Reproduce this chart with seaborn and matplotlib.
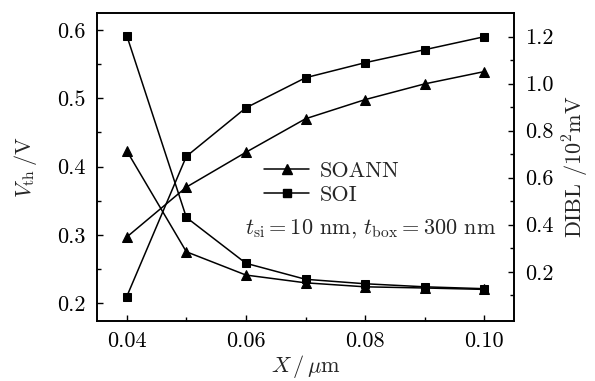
import matplotlib
matplotlib.use("Agg")
import matplotlib.pyplot as plt
import seaborn as sns
import pandas as pd
from matplotlib.ticker import FixedLocator, FormatStrFormatter
from matplotlib.lines import Line2D

# ---- data ----
x_um = [0.04, 0.05, 0.06, 0.07, 0.08, 0.09, 0.10]
vth_soann = [0.297, 0.370, 0.421, 0.470, 0.498, 0.521, 0.539]
vth_soi = [0.210, 0.415, 0.486, 0.530, 0.552, 0.571, 0.590]
dibl_soann = [0.714, 0.285, 0.186, 0.153, 0.136, 0.131, 0.125]
dibl_soi = [1.204, 0.431, 0.236, 0.168, 0.149, 0.136, 0.128]
series_labels = ["SOANN", "SOI"]

sns.set_style("ticks")
plt.rcParams["font.family"] = ["cmr10", "DejaVu Serif"]
plt.rcParams["mathtext.fontset"] = "cm"
plt.rcParams["axes.formatter.use_mathtext"] = True
plt.rcParams["axes.unicode_minus"] = False

fs = 16
fig = plt.figure(figsize=(5.95, 3.81), dpi=100)
ax = fig.add_axes([0.163, 0.158, 0.701, 0.809])
ax2 = ax.twinx()

lw = 1.1
styles = {"SOANN": dict(marker="^", markersize=7.5), "SOI": dict(marker="s", markersize=5.5)}

df_v = pd.DataFrame({"x": x_um * 2, "y": vth_soann + vth_soi,
                     "s": ["SOANN"] * 7 + ["SOI"] * 7})
df_d = pd.DataFrame({"x": x_um * 2, "y": dibl_soann + dibl_soi,
                     "s": ["SOANN"] * 7 + ["SOI"] * 7})

for name in series_labels:
    sub = df_v[df_v.s == name]
    sns.lineplot(data=sub, x="x", y="y", ax=ax, color="black", linewidth=lw,
                 markeredgecolor="black", legend=False, **styles[name])
    sub = df_d[df_d.s == name]
    sns.lineplot(data=sub, x="x", y="y", ax=ax2, color="black", linewidth=lw,
                 markeredgecolor="black", legend=False, **styles[name])

ax.set_xlim(0.035, 0.105)
ax.set_ylim(0.1745, 0.6253)
ax2.set_ylim(-0.0085, 1.302)

ax.xaxis.set_major_locator(FixedLocator([0.04, 0.06, 0.08, 0.10]))
ax.xaxis.set_minor_locator(FixedLocator([0.05, 0.07, 0.09]))
ax.xaxis.set_major_formatter(FormatStrFormatter("%.2f"))
ax.yaxis.set_major_locator(FixedLocator([0.2, 0.3, 0.4, 0.5, 0.6]))
ax.yaxis.set_minor_locator(FixedLocator([0.25, 0.35, 0.45, 0.55]))
ax.yaxis.set_major_formatter(FormatStrFormatter("%.1f"))
ax2.yaxis.set_major_locator(FixedLocator([0.2, 0.4, 0.6, 0.8, 1.0, 1.2]))
ax2.yaxis.set_minor_locator(FixedLocator([0.1, 0.3, 0.5, 0.7, 0.9, 1.1]))
ax2.yaxis.set_major_formatter(FormatStrFormatter("%.1f"))

for a in (ax, ax2):
    a.tick_params(which="both", direction="in", width=1.0, color="black",
                  labelsize=fs, labelcolor="black")
    a.tick_params(which="major", length=4)
    a.tick_params(which="minor", length=3)
    for sp in a.spines.values():
        sp.set_visible(True)
        sp.set_linewidth(1.2)
        sp.set_color("black")
ax.tick_params(axis="x", pad=8)
ax.tick_params(axis="y", pad=8)
ax2.tick_params(axis="y", pad=8)

ax.set_xlabel(r"$X\,/\,\mu\mathrm{m}$", fontsize=fs, labelpad=1)
ax.set_ylabel(r"$V_{\rm th}\,$/V", fontsize=fs, labelpad=13)
ax2.set_ylabel(r"DIBL /10$^2$mV", fontsize=fs, rotation=90, labelpad=5)

handles = [Line2D([], [], color="black", linewidth=lw, marker="^", markersize=7.5),
           Line2D([], [], color="black", linewidth=lw, marker="s", markersize=5.5)]
ax.legend(handles, series_labels, loc="upper left", bbox_to_anchor=(0.38, 0.545),
          frameon=False, fontsize=fs, handlelength=2.0, handletextpad=0.5,
          labelspacing=0.2, borderaxespad=0)

ax.text(0.657, 0.30, r"$t_{\rm si}=10$ nm, $t_{\rm box}=300$ nm", transform=ax.transAxes,
        ha="center", va="center", fontsize=fs)

fig.savefig("out.png", dpi=100)
